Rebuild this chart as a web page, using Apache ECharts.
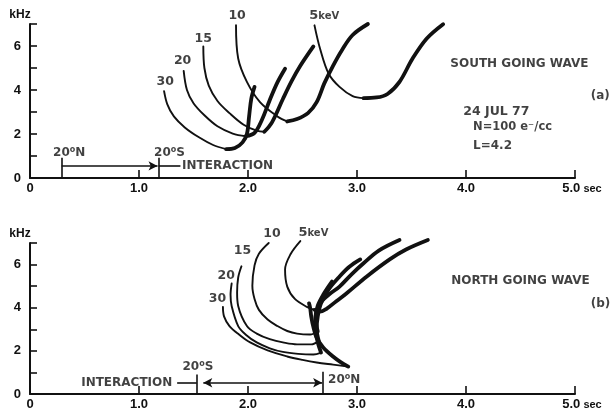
<!DOCTYPE html>
<html><head><meta charset="utf-8">
<script src="https://cdn.jsdelivr.net/npm/echarts@6.0.0/dist/echarts.min.js"></script>
<style>html,body{margin:0;padding:0;background:#fff}#c{width:611px;height:414px}</style>
</head><body><div id="c"></div>
<script>
// ---------- data ----------
const energyLabels = ['30', '20', '15', '10', '5'];
const xTickLabels = ['0', '1.0', '2.0', '3.0', '4.0', '5.0'];
const yTickLabels = ['0', '', '2', '', '4', '', '6', ''];

// (a) South going wave: [time sec, frequency kHz]
const south30Thin  = [[1.23,3.95],[1.26,3.35],[1.32,2.8],[1.42,2.3],[1.55,1.85],[1.68,1.5],[1.80,1.31]];
const south30Thick = [[1.80,1.31],[1.88,1.36],[1.95,1.62],[1.99,2.0],[2.01,2.8],[2.03,3.6],[2.06,4.14]];
const south20Thin  = [[1.41,4.87],[1.44,4.0],[1.50,3.4],[1.60,2.85],[1.72,2.35],[1.86,2.02],[1.98,1.9]];
const south20Thick = [[1.98,1.9],[2.06,2.05],[2.13,2.67],[2.20,3.55],[2.27,4.35],[2.34,4.97]];
const south15Thin  = [[1.59,5.98],[1.60,5.0],[1.64,4.2],[1.72,3.5],[1.83,2.95],[1.96,2.42],[2.08,2.15],[2.15,2.1]];
const south15Thick = [[2.15,2.1],[2.22,2.53],[2.32,3.59],[2.40,4.4],[2.48,5.1],[2.60,5.98]];
const south10Thin  = [[1.89,6.94],[1.91,5.43],[1.99,4.37],[2.11,3.45],[2.27,2.8],[2.36,2.57]];
const south10Thick = [[2.36,2.57],[2.45,2.68],[2.55,2.95],[2.63,3.45],[2.70,4.3],[2.78,5.1],[2.86,5.8],[2.96,6.5],[3.10,7.0]];
const south5Thin   = [[2.61,6.94],[2.66,5.9],[2.74,4.74],[2.84,4.14],[2.96,3.72],[3.06,3.63]];
const south5Thick  = [[3.06,3.63],[3.18,3.66],[3.28,3.82],[3.39,4.37],[3.51,5.43],[3.64,6.34],[3.79,6.99]];

// (b) North going wave
const north30Thin  = [[1.77,4.04],[1.78,3.6],[1.83,3.15],[1.92,2.75],[2.02,2.39],[2.18,2.02],[2.36,1.74],[2.50,1.58],[2.63,1.46],[2.78,1.36],[2.92,1.27]];
const north30Thick = [[2.92,1.27],[2.85,1.48],[2.78,1.74],[2.69,2.16],[2.63,2.6],[2.60,3.1],[2.58,3.6],[2.57,4.0],[2.56,4.2]];
const north20Thin  = [[1.85,5.12],[1.84,4.6],[1.85,4.08],[1.91,3.15],[1.98,2.75],[2.08,2.39],[2.20,2.12],[2.32,1.95],[2.46,1.86],[2.60,1.83],[2.67,1.92]];
const north20Thick = [[2.67,1.92],[2.64,2.4],[2.62,3.0],[2.62,3.6],[2.64,4.1],[2.69,4.6],[2.77,5.21]];
const north15Thin  = [[1.94,5.92],[1.91,5.4],[1.90,4.7],[1.91,4.08],[1.99,3.15],[2.08,2.8],[2.20,2.54],[2.33,2.38],[2.45,2.3],[2.58,2.3],[2.65,2.45]];
const north15Thick = [[2.65,2.45],[2.63,3.0],[2.64,3.6],[2.67,4.2],[2.74,4.85],[2.84,5.45],[2.93,5.9],[3.03,6.24]];
const north10Thin  = [[2.19,7.0],[2.10,6.5],[2.06,5.96],[2.04,5.02],[2.06,4.4],[2.10,3.9],[2.18,3.45],[2.27,3.15],[2.36,2.92],[2.45,2.8],[2.57,2.76],[2.64,2.9]];
const north10Thick = [[2.64,2.9],[2.62,3.5],[2.66,4.18],[2.74,4.6],[2.84,4.98],[2.95,5.55],[3.06,6.06],[3.20,6.65],[3.39,7.14]];
const north5Thin   = [[2.48,7.09],[2.39,6.48],[2.34,5.77],[2.36,4.98],[2.43,4.41],[2.54,4.04],[2.61,3.9]];
const north5Thick  = [[2.61,3.9],[2.66,3.82],[2.72,3.95],[2.81,4.3],[2.90,4.65],[3.09,5.45],[3.30,6.24],[3.45,6.7],[3.65,7.14]];

// interaction regions (sec): [start latitude, end latitude]
const southInteraction = [0.29, 1.18];   // 20°N -> 20°S
const northInteraction = [1.53, 2.69];   // 20°S -> 20°N

// ---------- chart ----------
const FONT = '"Liberation Sans", Arial, sans-serif';
const AFONT = '"DejaVu Sans", "Liberation Sans", sans-serif';
const INK = '#111';
const FW = 'bold';
const chart = echarts.init(document.getElementById('c'), null, {renderer: 'canvas'});

function curve(pts, thick, g) {
  return {
    type: 'line', xAxisIndex: g, yAxisIndex: g, data: pts,
    smooth: 0.35, symbol: 'none', showSymbol: false, clip: false, silent: true,
    lineStyle: {color: INK, width: thick ? 3.8 : 1.9, cap: 'round', join: 'round'},
    z: thick ? 3 : 2
  };
}
function txt(x, y, str, pos, size) {
  return {
    value: [x, y],
    label: {show: true, formatter: str, position: pos || 'inside', distance: 0,
      color: INK, fontFamily: AFONT, fontSize: size || 12, fontWeight: FW,
      rich: {n: {fontSize: 13, fontWeight: FW, fontFamily: AFONT, color: INK},
             k: {fontSize: 10, fontWeight: FW, fontFamily: AFONT, color: INK},
             s: {fontSize: 8, fontWeight: FW, fontFamily: AFONT, color: INK, verticalAlign: 'top', padding: [0,0,6,0]}}
    }
  };
}
function textSeries(g, items) {
  return {type: 'scatter', xAxisIndex: g, yAxisIndex: g, symbolSize: 1, clip: false, silent: true,
          itemStyle: {color: 'rgba(0,0,0,0)'}, data: items, z: 5};
}
function segSeries(g, segs, arrowSegs) {
  const ml = [];
  segs.forEach(s => ml.push([{coord: s[0], symbol: 'none'}, {coord: s[1], symbol: 'none'}]));
  arrowSegs.forEach(s => ml.push([{coord: s[0], symbol: s[2]}, {coord: s[1], symbol: s[3]}]));
  return {type: 'line', xAxisIndex: g, yAxisIndex: g, data: [], silent: true,
    markLine: {silent: true, animation: false, symbolSize: [7, 9], label: {show: false},
      lineStyle: {color: INK, width: 1.6, type: 'solid'}, emphasis: {disabled: true}, data: ml}};
}

function xAxis(g) {
  return {type: 'value', gridIndex: g, min: 0, max: 5, interval: 1,
    axisLine: {lineStyle: {color: INK, width: 2}},
    axisTick: {inside: true, length: 8, lineStyle: {color: INK, width: 1.6}},
    splitLine: {show: false},
    axisLabel: {color: INK, fontFamily: FONT, fontSize: 13, fontWeight: FW, margin: 4,
      formatter: v => v === 5 ? '{a|5.0}{b| sec}' : xTickLabels[v],
      rich: {a: {fontSize: 13, fontWeight: FW, fontFamily: FONT, color: INK, padding: [0,0,0,14]}, b: {fontSize: 11, fontWeight: FW, fontFamily: FONT, color: INK}}}
  };
}
function yAxis(g) {
  return {type: 'value', gridIndex: g, min: 0, max: 7, interval: 1,
    name: 'kHz', nameLocation: 'end', nameGap: 3,
    nameTextStyle: {color: INK, fontFamily: FONT, fontSize: 12, fontWeight: 'bold', align: 'center', padding: [0, 20, 0, 0]},
    axisLine: {lineStyle: {color: INK, width: 2}},
    axisTick: {inside: true, length: 7, lineStyle: {color: INK, width: 1.6}},
    splitLine: {show: false},
    axisLabel: {color: INK, fontFamily: FONT, fontSize: 13, fontWeight: FW, margin: 9, formatter: v => yTickLabels[v] || ''}
  };
}

const southCurves = [[south30Thin, south30Thick], [south20Thin, south20Thick], [south15Thin, south15Thick], [south10Thin, south10Thick], [south5Thin, south5Thick]];
const northCurves = [[north30Thin, north30Thick], [north20Thin, north20Thick], [north15Thin, north15Thick], [north10Thin, north10Thick], [north5Thin, north5Thick]];

const series = [];
southCurves.forEach(c => { series.push(curve(c[0], false, 0)); series.push(curve(c[1], true, 0)); });
northCurves.forEach(c => { series.push(curve(c[0], false, 1)); series.push(curve(c[1], true, 1)); });

const southLabelPos = [[1.24,4.37],[1.40,5.33],[1.59,6.34],[1.90,7.36],[2.70,7.36]];
const northLabelPos = [[1.72,4.41],[1.80,5.49],[1.95,6.62],[2.22,7.42],[2.60,7.46]];
const lbl = e => e === '5' ? '{n|5}{k|keV}' : e;

series.push(textSeries(0, energyLabels.map((e, i) => txt(southLabelPos[i][0], southLabelPos[i][1], lbl(e), 'inside', 12.5))
  .concat([
    txt(4.49, 5.2, 'SOUTH GOING WAVE'),
    txt(5.14, 3.72, '(a)', 'right'),
    txt(3.97, 3.03, '24 JUL 77', 'right', 12.5),
    txt(4.06, 2.30, 'N=100 e⁻/cc', 'right', 11.5),
    txt(4.06, 1.47, 'L=4.2', 'right'),
    txt(0.36, 1.15, '20{s|o}N'),
    txt(1.28, 1.15, '20{s|o}S'),
    txt(1.39, 0.55, 'INTERACTION', 'right')
  ])));
series.push(textSeries(1, energyLabels.map((e, i) => txt(northLabelPos[i][0], northLabelPos[i][1], lbl(e), 'inside', 12.5))
  .concat([
    txt(4.50, 5.26, 'NORTH GOING WAVE'),
    txt(5.14, 4.18, '(b)', 'right'),
    txt(1.54, 1.27, '20{s|o}S'),
    txt(2.73, 0.66, '20{s|o}N', 'right'),
    txt(1.31, 0.52, 'INTERACTION', 'left')
  ])));

series.push(segSeries(0,
  [[[southInteraction[0], 0], [southInteraction[0], 0.92]],
   [[southInteraction[1], 0], [southInteraction[1], 0.92]],
   [[southInteraction[1], 0.55], [1.38, 0.55]]],
  [[[southInteraction[0], 0.55], [southInteraction[1] - 0.01, 0.55], 'none', 'arrow']]));
series.push(segSeries(1,
  [[[northInteraction[0], 0], [northInteraction[0], 0.9]],
   [[northInteraction[1], 0], [northInteraction[1], 1.03]],
   [[1.35, 0.52], [northInteraction[0], 0.52]]],
  [[[northInteraction[0] + 0.06, 0.52], [northInteraction[1] - 0.01, 0.52], 'arrow', 'arrow']]));

chart.setOption({
  animation: false,
  backgroundColor: '#fff',
  grid: [
    {left: 30, top: 24, width: 545, height: 154},
    {left: 30, top: 243, width: 545, height: 151}
  ],
  xAxis: [xAxis(0), xAxis(1)],
  yAxis: [yAxis(0), yAxis(1)],
  series: series
});
</script></body></html>
